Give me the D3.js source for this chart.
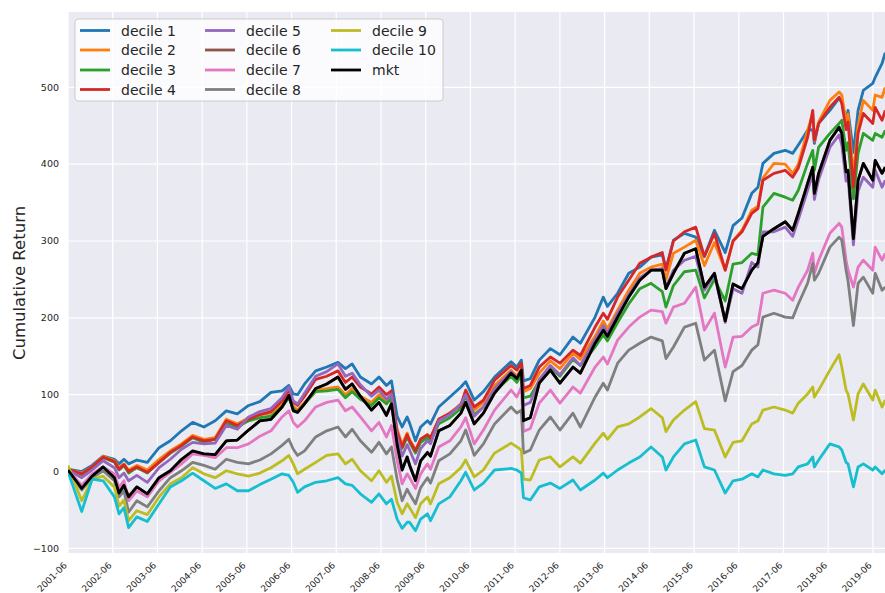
<html>
<script src='https://d3js.org/d3.v7.min.js'></script>
<style>
body {margin: 0; background: white;}
text {font-family: 'DejaVu Sans', sans-serif; fill: #262626;}
</style>
<body>
<svg width=885 height=593></svg>
<script>
// sample dates (roughly quarterly plus the big swings)
var dates = ["2001-06-01","2001-09-21","2001-12-15","2002-03-15","2002-06-15","2002-07-23","2002-09-01","2002-10-09","2002-12-15","2003-03-11",
"2003-06-15","2003-09-15","2003-12-15","2004-03-15","2004-06-15","2004-09-15","2004-12-15","2005-03-15","2005-06-15","2005-09-15",
"2005-12-15","2006-03-15","2006-05-10","2006-06-15","2006-07-20","2006-09-15","2006-12-15","2007-03-15","2007-06-15","2007-08-15",
"2007-10-09","2007-12-15","2008-03-15","2008-05-15","2008-07-15","2008-08-25","2008-10-10","2008-11-20","2008-12-31","2009-01-20",
"2009-03-09","2009-04-20","2009-06-15","2009-07-10","2009-09-15","2009-12-15","2010-03-15","2010-04-23","2010-07-02","2010-09-15",
"2010-12-15","2011-04-29","2011-06-15","2011-07-22","2011-08-08","2011-10-03","2011-12-15","2012-03-15","2012-06-01","2012-09-15",
"2012-11-15","2013-03-15","2013-05-21","2013-06-24","2013-09-15","2013-12-15","2014-03-15","2014-06-15","2014-09-15","2014-10-15",
"2014-12-15","2015-03-15","2015-06-15","2015-08-25","2015-11-15","2016-02-11","2016-04-15","2016-06-27","2016-09-15","2016-11-04",
"2016-12-15","2017-03-15","2017-06-15","2017-08-15","2017-09-30","2017-12-15","2018-01-26","2018-02-08","2018-03-15","2018-06-15",
"2018-08-29","2018-09-20","2018-10-25","2018-11-10","2018-12-24","2019-01-31","2019-03-15","2019-05-31","2019-06-20","2019-08-15",
"2019-09-10"];

var decile1 = [3,0,8,20,16,10,16,10,15,12, 31,40,53,64,58,66,79,75,86,91, 103,105,112,101,100,114,131,136,142,134,
 140,123,114,123,112,118,72,58,71,63, 40,58,66,62,84,97,110,117,93,104, 123,143,136,145,118,121,145,160,152,175,
 167,201,227,215,232,258,266,279,282,264, 301,310,305,280,314,285,320,330,362,370, 401,414,418,414,425,444,445,427,453,470,
 486,483,455,470,415,470,496,505,513,531, 545];
var decile2 = [3,-2,6,20,14,5,10,2,8,2, 16,27,36,47,42,44,68,62,70,74, 76,88,100,85,80,90,106,108,110,100,
 108,98,90,100,92,100,55,35,50,42, 28,42,48,44,68,76,88,104,80,90, 112,132,124,134,104,108,128,144,134,154,
 146,176,196,186,210,236,258,266,270,250, 284,292,301,268,298,262,300,314,340,345, 382,401,400,388,400,444,466,430,455,483,
 494,490,455,465,385,450,483,470,490,487, 500];
var decile3 = [3,-4,5,18,12,2,8,-2,5,-2, 12,24,33,44,38,42,62,58,66,70, 72,84,96,82,78,88,104,105,107,96,
 104,94,86,96,88,96,50,30,45,38, 24,38,44,40,62,70,82,98,74,84, 104,124,116,126,96,98,118,136,124,146,
 138,162,178,170,194,218,238,245,234,214, 242,260,262,226,250,222,270,272,284,282, 344,362,357,353,366,401,418,392,422,440,
 453,457,418,428,355,414,440,431,440,435, 444];
var decile4 = [3,-3,6,19,13,3,9,0,6,-1, 12,25,34,45,40,42,66,60,68,74, 78,92,106,90,86,98,120,124,131,116,
 123,110,101,110,100,105,52,32,48,40, 27,42,48,44,68,76,86,106,84,93, 119,138,132,141,108,112,136,149,141,158,
 151,188,206,198,227,249,271,279,285,262, 300,312,318,280,310,262,300,312,336,342, 379,388,392,383,395,435,470,431,453,474,
 487,479,445,455,370,440,466,453,474,457, 470];
var decile5 = [2,-8,2,14,5,-8,-2,-12,-5,-14, 5,16,29,38,36,37,60,55,71,78, 82,96,110,92,88,102,124,130,140,124,
 128,113,98,106,94,101,45,20,35,28, 10,30,40,36,66,74,88,100,72,84, 108,130,122,132,86,90,120,138,126,148,
 138,172,190,180,206,230,252,262,264,240, 262,275,280,236,256,194,238,232,272,266, 312,312,318,306,328,366,388,354,380,422,
 438,425,378,383,295,365,383,370,392,370, 379];
var decile6 = [1,-20,-6,6,-7,-26,-17,-32,-20,-29, -8,1,15,26,23,22,40,41,54,66, 68,84,98,80,77,88,108,114,123,107,
 114,98,80,90,74,89,36,2,19,9, -11,14,24,20,53,60,76,90,62,76, 102,128,121,132,67,70,115,132,115,136,
 128,167,184,176,201,227,249,262,262,238, 258,284,290,240,258,196,244,238,262,272, 306,316,325,314,336,375,396,362,388,431,
 448,440,390,392,304,379,401,379,405,388, 396];
var decile7 = [2,-18,-3,6,-3,-21,-12,-38,-25,-33, -12,-1,10,23,21,18,31,31,36,46, 53,71,79,64,58,66,84,90,93,79,
 84,71,53,64,45,60,15,-16,-3,-8, -22,-3,10,3,32,40,58,70,36,54, 80,106,97,110,52,56,89,106,89,110,
 102,136,149,140,171,188,201,210,208,193, 214,219,240,184,206,136,175,176,188,192, 232,236,232,223,240,262,284,258,275,310,
 323,318,275,262,240,266,275,262,292,275, 284];
var decile8 = [1,-24,-8,1,-12,-33,-25,-53,-38,-46, -25,-8,1,12,8,3,16,12,10,15, 23,34,42,29,21,27,45,53,58,45,
 55,40,25,38,23,32,-10,-38,-23,-29, -42,-21,-8,-15,14,23,40,54,21,36, 62,84,76,80,24,28,54,71,54,76,
 58,97,115,106,141,158,167,175,170,147, 162,188,193,145,158,92,130,138,158,165, 201,206,201,200,218,245,271,249,258,292,
 305,301,262,248,190,245,253,232,258,236, 240];
var decile9 = [8,-38,-10,-6,-20,-45,-37,-64,-51,-56, -33,-16,-8,5,-3,-8,1,-3,-6,-2, 5,14,21,10,-3,3,12,21,23,10,
 16,1,-12,1,-14,-6,-40,-55,-42,-47, -60,-42,-33,-42,-16,-8,5,15,-7,2, 24,37,32,28,-10,-11,15,19,6,19,
 11,37,50,42,58,62,71,82,70,52, 67,80,91,56,54,19,38,40,62,66, 80,84,80,76,89,101,110,97,106,132,
 152,136,106,101,67,101,114,93,106,84, 93];
var decile10 = [0,-52,-10,-12,-33,-55,-47,-73,-59,-65, -42,-20,-12,-2,-12,-22,-16,-25,-25,-17, -10,-3,-5,-14,-27,-20,-14,-12,-8,-16,
 -18,-29,-40,-29,-42,-36,-62,-74,-66,-66, -77,-62,-55,-64,-42,-33,-12,-1,-24,-15, 2,4,2,-2,-34,-37,-20,-15,-22,-11,
 -24,-11,-2,-8,2,11,19,32,19,2, 19,36,41,6,2,-28,-12,-10,-3,-7, 2,-3,-5,-3,6,10,19,6,15,36,
 32,28,12,10,-20,6,10,2,6,-3, 2];
var mkt = [2,-22,-6,6,-8,-28,-18,-33,-20,-29, -8,1,16,27,23,22,40,41,54,66, 68,84,99,79,77,88,108,114,123,107,
 114,98,80,90,73,88,35,2,19,8, -12,14,25,20,53,60,76,90,62,76, 102,128,121,132,66,70,115,132,115,136,
 128,167,184,176,201,227,249,262,262,238, 258,284,290,240,258,196,244,238,262,272, 306,316,325,314,336,375,396,362,388,431,
 448,440,390,392,303,379,401,379,405,388, 396];

var seriesNames = ["decile 1","decile 2","decile 3","decile 4","decile 5","decile 6","decile 7","decile 8","decile 9","decile 10","mkt"];
var seriesValues = [decile1,decile2,decile3,decile4,decile5,decile6,decile7,decile8,decile9,decile10,mkt];
var colors = ["#1f77b4","#ff7f0e","#2ca02c","#d62728","#9467bd","#8c564b","#e377c2","#7f7f7f","#bcbd22","#17becf","#000000"];
var xTicks = ["2001-06","2002-06","2003-06","2004-06","2005-06","2006-06","2007-06","2008-06","2009-06","2010-06",
 "2011-06","2012-06","2013-06","2014-06","2015-06","2016-06","2017-06","2018-06","2019-06"];
var yTicks = [-100,0,100,200,300,400,500];

var svg = d3.select("svg");
var parse = d3.timeParse("%Y-%m-%d");
var parseM = d3.timeParse("%Y-%m");
var L = 68, R = 885, T = 12, B = 553;

var x = d3.scaleTime().domain([parse("2001-06-01"), parse("2019-09-08")]).range([L, R]);
var y = d3.scaleLinear().domain([-106, 598]).range([B, T]);

svg.append("defs").append("clipPath").attr("id","clip")
  .append("rect").attr("x",L).attr("y",T).attr("width",R-L).attr("height",B-T);

svg.append("rect").attr("x",L).attr("y",T).attr("width",R-L).attr("height",B-T).attr("fill","#eaeaf2");

// grid
var grid = svg.append("g");
grid.selectAll(".gx").data(xTicks).enter().append("line")
  .attr("x1",d=>x(parseM(d))).attr("x2",d=>x(parseM(d))).attr("y1",T).attr("y2",B)
  .attr("stroke","white").attr("stroke-width",1.2);
grid.selectAll(".gy").data(yTicks).enter().append("line")
  .attr("x1",L).attr("x2",R).attr("y1",d=>y(d)).attr("y2",d=>y(d))
  .attr("stroke","white").attr("stroke-width",1.2);

// tick labels
svg.append("g").selectAll("text").data(yTicks).enter().append("text")
  .attr("x",59).attr("y",d=>y(d)).attr("dy","0.35em").attr("text-anchor","end")
  .style("font-size","9.5px").text(d=>d<0 ? "\u2212"+Math.abs(d) : d);
svg.append("g").selectAll("text").data(xTicks).enter().append("text")
  .attr("transform",d=>"translate("+(x(parseM(d))-0.5)+",566) rotate(-45)")
  .attr("text-anchor","end").style("font-size","9px").text(d=>d);

svg.append("text").attr("transform","translate(25,283) rotate(-90)")
  .attr("text-anchor","middle").style("font-size","16.5px").text("Cumulative Return");

// lines
var line = d3.line().x((d,i)=>x(parse(dates[i]))).y(d=>y(d));
svg.append("g").attr("clip-path","url(#clip)").selectAll("path").data(seriesValues).enter().append("path")
  .attr("d",d=>line(d)).attr("fill","none").attr("stroke",(d,i)=>colors[i])
  .attr("stroke-width",2.8).attr("stroke-linejoin","round");

// legend
var lg = svg.append("g");
lg.append("rect").attr("x",75).attr("y",19).attr("width",368).attr("height",82).attr("rx",3)
  .attr("fill","white").attr("fill-opacity",0.8).attr("stroke","#cccccc").attr("stroke-width",1);
var colX = [80,205,331], rowY = [30.5,50,70,89.5];
seriesNames.forEach(function(n,i){
  var cx = colX[Math.floor(i/4)], cy = rowY[i%4];
  lg.append("line").attr("x1",cx).attr("x2",cx+30).attr("y1",cy).attr("y2",cy)
    .attr("stroke",colors[i]).attr("stroke-width",2.8);
  lg.append("text").attr("x",cx+41).attr("y",cy).attr("dy","0.36em").style("font-size","14px").text(n);
});
</script>
</body>
</html>
